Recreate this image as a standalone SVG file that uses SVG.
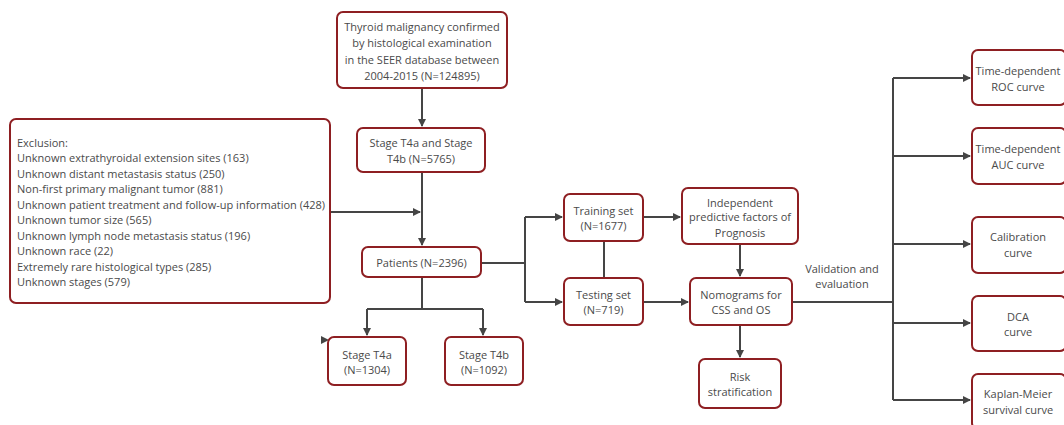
<svg xmlns="http://www.w3.org/2000/svg" width="1064" height="425" viewBox="0 0 1064 425">
<style>
.box{fill:#fff;stroke:#8e1f22;stroke-width:2}
.t{font-family:"Open Sans","Noto Sans",sans-serif;font-size:11px;fill:#4a4a4a;text-anchor:middle}
.tl{font-family:"Open Sans","Noto Sans",sans-serif;font-size:11px;fill:#4a4a4a}
.c{fill:none;stroke:#454545;stroke-width:2}
</style>
<defs>
<marker id="ar" markerWidth="8" markerHeight="8" refX="7" refY="4" orient="auto" markerUnits="userSpaceOnUse">
<path d="M0,0 L8,4 L0,8 Z" fill="#454545"/>
</marker>
</defs>
<rect width="1064" height="425" fill="#fff"/>
<g id="connectors">
<path class="c" d="M422,88 V126" marker-end="url(#ar)"/>
<path class="c" d="M422,172 V245" marker-end="url(#ar)"/>
<path class="c" d="M330,212 H420" marker-end="url(#ar)"/>
<path class="c" d="M422,277 V309 M367,309 H483"/>
<path class="c" d="M367,309 V335" marker-end="url(#ar)"/>
<path class="c" d="M483,309 V335" marker-end="url(#ar)"/>
<polygon points="321,336 329,340 321,344" fill="#454545"/>
<path class="c" d="M481,263 H525 M525,217 V302"/>
<path class="c" d="M525,217 H562" marker-end="url(#ar)"/>
<path class="c" d="M525,302 H562" marker-end="url(#ar)"/>
<path class="c" d="M604,241 V278"/>
<path class="c" d="M643,217 H680" marker-end="url(#ar)"/>
<path class="c" d="M643,302 H688" marker-end="url(#ar)"/>
<path class="c" d="M740,244 V276" marker-end="url(#ar)"/>
<path class="c" d="M740,325 V357" marker-end="url(#ar)"/>
<path class="c" d="M792,302 H893 M893,78 V400"/>
<path class="c" d="M893,78 H970" marker-end="url(#ar)"/>
<path class="c" d="M893,156 H970" marker-end="url(#ar)"/>
<path class="c" d="M893,244 H970" marker-end="url(#ar)"/>
<path class="c" d="M893,323 H970" marker-end="url(#ar)"/>
<path class="c" d="M893,400 H970" marker-end="url(#ar)"/>
<text class="t" x="842" y="273">Validation and</text>
<text class="t" x="842" y="288">evaluation</text>
</g>
<g id="source">
<rect class="box" x="337" y="12" width="170" height="76" rx="6"/>
<text class="t" x="422" y="31">Thyroid malignancy confirmed</text>
<text class="t" x="422" y="47">by histological examination</text>
<text class="t" x="422" y="64">in the SEER database between</text>
<text class="t" x="422" y="80">2004-2015 (N=124895)</text>
</g>
<g id="exclusion">
<rect class="box" x="10" y="119" width="320" height="184" rx="6"/>
<text class="tl" x="17" y="147">Exclusion:</text>
<text class="tl" x="17" y="162">Unknown extrathyroidal extension sites (163)</text>
<text class="tl" x="17" y="177.5">Unknown distant metastasis status (250)</text>
<text class="tl" x="17" y="193">Non-first primary malignant tumor (881)</text>
<text class="tl" x="17" y="208.5">Unknown patient treatment and follow-up information (428)</text>
<text class="tl" x="17" y="224">Unknown tumor size (565)</text>
<text class="tl" x="17" y="239.5">Unknown lymph node metastasis status (196)</text>
<text class="tl" x="17" y="255">Unknown race (22)</text>
<text class="tl" x="17" y="270.5">Extremely rare histological types (285)</text>
<text class="tl" x="17" y="286">Unknown stages (579)</text>
</g>
<g id="stage">
<rect class="box" x="357" y="128" width="128" height="44" rx="6"/>
<text class="t" x="421" y="147">Stage T4a and Stage</text>
<text class="t" x="421" y="163">T4b (N=5765)</text>
</g>
<g id="patients">
<rect class="box" x="362" y="247" width="119" height="30" rx="6"/>
<text class="t" x="421.5" y="267">Patients (N=2396)</text>
</g>
<g id="t4a">
<rect class="box" x="328" y="337" width="78" height="48" rx="6"/>
<text class="t" x="367" y="359">Stage T4a</text>
<text class="t" x="367" y="374">(N=1304)</text>
</g>
<g id="t4b">
<rect class="box" x="445" y="337" width="78" height="48" rx="6"/>
<text class="t" x="484" y="359">Stage T4b</text>
<text class="t" x="484" y="374">(N=1092)</text>
</g>
<g id="training">
<rect class="box" x="564" y="194" width="79" height="47" rx="6"/>
<text class="t" x="603.5" y="215">Training set</text>
<text class="t" x="603.5" y="230">(N=1677)</text>
</g>
<g id="testing">
<rect class="box" x="564" y="278" width="79" height="47" rx="6"/>
<text class="t" x="603.5" y="299">Testing set</text>
<text class="t" x="603.5" y="314">(N=719)</text>
</g>
<g id="independent">
<rect class="box" x="682" y="188" width="116" height="56" rx="6"/>
<text class="t" x="740" y="207">Independent</text>
<text class="t" x="740" y="221">predictive factors of</text>
<text class="t" x="740" y="237">Prognosis</text>
</g>
<g id="nomograms">
<rect class="box" x="690" y="278" width="102" height="47" rx="6"/>
<text class="t" x="741" y="299">Nomograms for</text>
<text class="t" x="741" y="314">CSS and OS</text>
</g>
<g id="risk">
<rect class="box" x="699" y="359" width="82" height="49" rx="6"/>
<text class="t" x="740" y="381">Risk</text>
<text class="t" x="740" y="396">stratification</text>
</g>
<g id="roc">
<rect class="box" x="972" y="50" width="94" height="55" rx="6"/>
<text class="t" x="1018" y="75">Time-dependent</text>
<text class="t" x="1018" y="91">ROC curve</text>
</g>
<g id="auc">
<rect class="box" x="972" y="128" width="94" height="56" rx="6"/>
<text class="t" x="1018" y="153">Time-dependent</text>
<text class="t" x="1018" y="169">AUC curve</text>
</g>
<g id="calibration">
<rect class="box" x="972" y="217" width="94" height="56" rx="6"/>
<text class="t" x="1018" y="241">Calibration</text>
<text class="t" x="1018" y="257">curve</text>
</g>
<g id="dca">
<rect class="box" x="972" y="296" width="94" height="55" rx="6"/>
<text class="t" x="1018" y="321">DCA</text>
<text class="t" x="1018" y="336">curve</text>
</g>
<g id="km">
<rect class="box" x="972" y="374" width="94" height="55" rx="6"/>
<text class="t" x="1018" y="398">Kaplan-Meier</text>
<text class="t" x="1018" y="414">survival curve</text>
</g>
</svg>
